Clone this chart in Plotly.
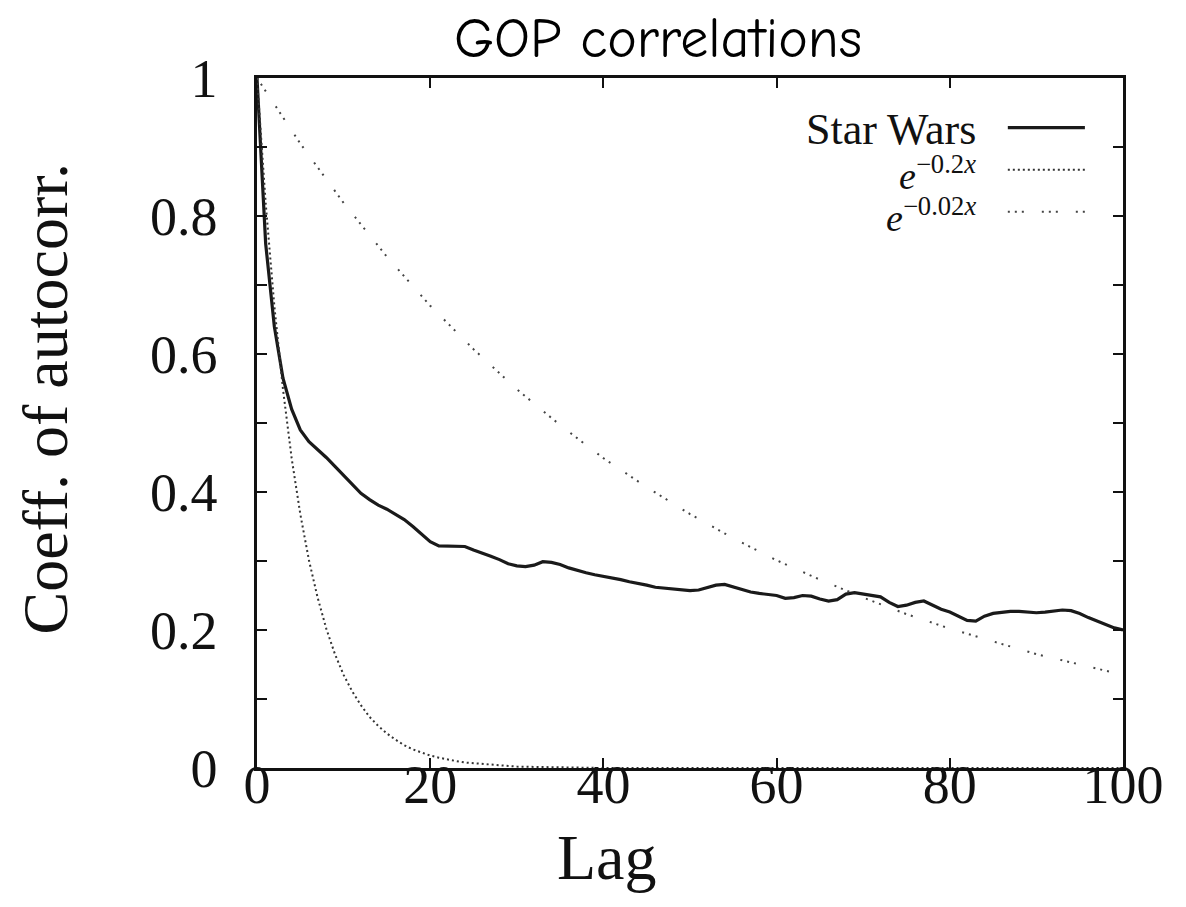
import plotly.graph_objects as go

# Autocorrelation of GOP sizes (Star Wars trace) against two exponential references
lag_sw = list(range(0, 101))
star_wars = [
    1.000, 0.760, 0.640, 0.565, 0.520, 0.490, 0.473, 0.462, 0.450, 0.437,
    0.424, 0.410, 0.398, 0.389, 0.381, 0.375, 0.368, 0.360, 0.350, 0.339,
    0.328, 0.322, 0.322, 0.322, 0.321, 0.316, 0.312, 0.307, 0.302, 0.296,
    0.293, 0.292, 0.294, 0.299, 0.298, 0.295, 0.290, 0.286, 0.283, 0.280,
    0.278, 0.276, 0.273, 0.270, 0.268, 0.265, 0.262, 0.261, 0.260, 0.258,
    0.257, 0.258, 0.262, 0.265, 0.266, 0.262, 0.258, 0.255, 0.253, 0.252,
    0.250, 0.246, 0.247, 0.250, 0.249, 0.245, 0.242, 0.244, 0.252, 0.254,
    0.252, 0.251, 0.248, 0.240, 0.234, 0.236, 0.240, 0.242, 0.236, 0.230,
    0.226, 0.220, 0.214, 0.213, 0.220, 0.224, 0.226, 0.227, 0.227, 0.226,
    0.225, 0.226, 0.227, 0.229, 0.228, 0.224, 0.218, 0.213, 0.208, 0.203,
    0.200,
]

lag_fast = list(range(0, 31)) + [40, 50, 60, 70, 80, 90, 100]
exp_fast = [
    1.000, 0.819, 0.670, 0.549, 0.449, 0.368, 0.301, 0.247, 0.202, 0.165,
    0.135, 0.111, 0.091, 0.074, 0.061, 0.050, 0.041, 0.033, 0.027, 0.022,
    0.018, 0.015, 0.012, 0.010, 0.008, 0.007, 0.006, 0.005, 0.004, 0.003,
    0.002, 0.000, 0.000, 0.000, 0.000, 0.000, 0.000, 0.000,
]

lag_slow = list(range(0, 101, 5))
exp_slow = [
    1.000, 0.905, 0.819, 0.741, 0.670, 0.607, 0.549, 0.497, 0.449, 0.407,
    0.368, 0.333, 0.301, 0.273, 0.247, 0.223, 0.202, 0.183, 0.165, 0.150,
    0.135,
]

x_ticks = [0, 20, 40, 60, 80, 100]
y_ticks = [0, 0.2, 0.4, 0.6, 0.8, 1]
y_tick_text = ["0", "0.2", "0.4", "0.6", "0.8", "1"]

legend_names = ["Star Wars", "<i>e</i><sup>−0.2<i>x</i></sup>", "<i>e</i><sup>−0.02<i>x</i></sup>"]

SERIF = "Liberation Serif, Times New Roman, serif"
INK = "#111111"

styles = [
    dict(color="#1a1a1a", width=3.2, dash="solid"),
    dict(color="#333333", width=2.0, dash="2px,3px"),
    dict(color="#444444", width=2.0, dash="2px,5px,2px,5px,2px,18px"),
]

fig = go.Figure()
for xs, ys, name, st in zip([lag_sw, lag_fast, lag_slow],
                            [star_wars, exp_fast, exp_slow],
                            legend_names, styles):
    fig.add_trace(go.Scatter(x=xs, y=ys, mode="lines", name=name,
                             line=st, showlegend=False, hoverinfo="skip"))

# Hand-placed key: text right-aligned, line sample to its right
key_text_y = [0.926, 0.862, 0.801]
key_line_y = [0.928, 0.867, 0.806]
key_sizes = [44, 38, 38]
for name, st, ty, ly, fs in zip(legend_names, styles, key_text_y, key_line_y, key_sizes):
    fig.add_annotation(xref="paper", yref="paper", x=0.833, y=ty,
                       text=name, showarrow=False, xanchor="right",
                       yanchor="middle", font=dict(family=SERIF, size=fs, color=INK))
    fig.add_shape(type="line", xref="paper", yref="paper",
                  x0=0.867, x1=0.956, y0=ly, y1=ly, line=st)

axis_common = dict(
    showline=True, linewidth=2.5, linecolor=INK, mirror="ticks",
    ticks="inside", ticklen=10, tickwidth=2, tickcolor=INK,
    showgrid=False, zeroline=False,
    tickfont=dict(family=SERIF, size=54, color=INK),
)

fig.update_xaxes(range=[0, 100], tickvals=x_ticks, ticklabelstandoff=-33, **axis_common)
fig.update_yaxes(range=[0, 1], tickvals=y_ticks, ticktext=y_tick_text,
                 ticklabelstandoff=26,
                 minor=dict(dtick=0.1, ticks="inside", ticklen=10, tickwidth=2,
                            tickcolor=INK, showgrid=False),
                 **axis_common)

fig.add_annotation(xref="paper", yref="paper", x=0.404, y=-0.13, text="Lag",
                   showarrow=False, xanchor="center", yanchor="middle",
                   font=dict(family=SERIF, size=64, color=INK))
fig.add_annotation(xref="paper", yref="paper", x=-0.244, y=0.535,
                   text="Coeff. of autocorr.", textangle=-90, showarrow=False,
                   xanchor="center", yanchor="middle",
                   font=dict(family=SERIF, size=64, color=INK))
fig.add_annotation(xref="paper", yref="paper", x=0.463, y=1.057,
                   text="GOP correlations", showarrow=False,
                   xanchor="center", yanchor="middle",
                   font=dict(family="Comic Sans MS, Comic Neue, Noto Sans", size=56, color="#000000"))

fig.update_layout(
    width=1186, height=907,
    margin=dict(l=257, r=63, t=78, b=139),
    paper_bgcolor="white", plot_bgcolor="white",
)

fig.write_html("out.html")
